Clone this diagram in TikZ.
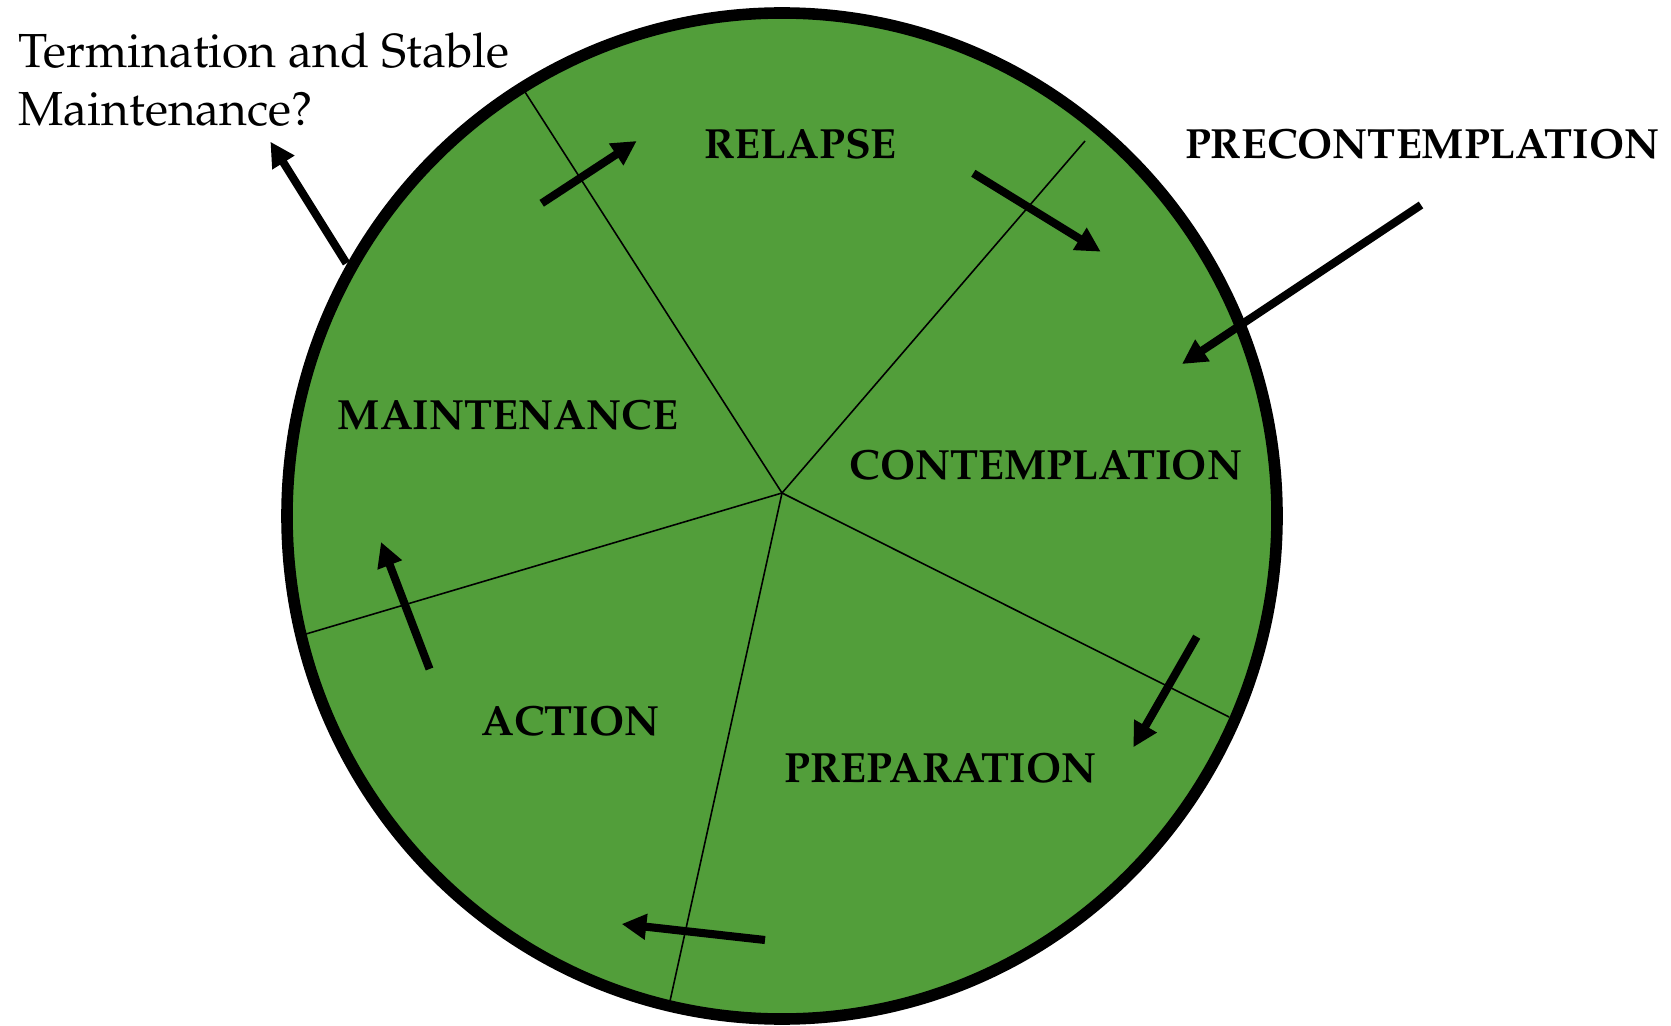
\documentclass[tikz,border=0pt]{standalone}
\usepackage[T1]{fontenc}
\usepackage{mathpazo}
\usetikzlibrary{arrows.meta}
\definecolor{wheelgreen}{RGB}{82,158,58}

\begin{document}
\begin{tikzpicture}[x=0.01cm, y=-0.01cm,
    stage/.style={anchor=base, inner sep=0pt, font=\fontsize{12}{14}\selectfont\bfseries},
    spoke/.style={line width=0.45pt},
    move/.style={line width=2.3pt, -{Triangle[length=7pt,width=7pt]}}]
  \useasboundingbox (0,0) rectangle (1671,1025);

  % Fill the wheel
  \fill[wheelgreen] (782,516) ellipse [x radius=495, y radius=503];

  % Hub and the five spokes
  \coordinate (hub) at (782,493);
  \coordinate (s1) at (525,92);
  \coordinate (s2) at (1085,141);
  \coordinate (s3) at (1229,717);
  \coordinate (s4) at (670,1001);
  \coordinate (s5) at (306,634);
  \foreach \s in {s1,s2,s3,s4,s5} {
    \draw[spoke] (hub) -- (\s);
  }

  % Rim
  \draw[line width=3.3pt] (782,516) ellipse [x radius=495, y radius=503];

  % Stage names
  \node[stage] (relapse) at (800.6,158.2) {RELAPSE};
  \node[stage] (maint) at (507.9,429.4) {MAINTENANCE};
  \node[stage] (contemp) at (1046,479) {CONTEMPLATION};
  \node[stage] (prep) at (940.6,782.4) {PREPARATION};
  \node[stage] (action) at (570.6,735.3) {ACTION};
  \node[stage] (precon) at (1422.2,158.3) {PRECONTEMPLATION};
  \node[anchor=north west, align=left, inner sep=0pt,
        font=\fontsize{13.6}{16.6}\selectfont] (term) at (18,32)
        {Termination and Stable\\Maintenance?};

  % Arrow ends
  \coordinate (mrA) at (541.7,203.3);  \coordinate (mrB) at (636.7,141);
  \coordinate (rcA) at (973.3,173.3);  \coordinate (rcB) at (1100.7,251.7);
  \coordinate (cpA) at (1196.7,636.7); \coordinate (cpB) at (1133.3,747.3);
  \coordinate (paA) at (765,940);      \coordinate (paB) at (621.7,924);
  \coordinate (amA) at (429.5,669);    \coordinate (amB) at (381,542);
  \coordinate (inA) at (1421,205);     \coordinate (inB) at (1182,364);
  \coordinate (outA) at (346.4,263.3); \coordinate (outB) at (270.4,141.7);

  % Moves round the wheel
  \draw[move] (mrA) -- (mrB);
  \draw[move] (rcA) -- (rcB);
  \draw[move] (cpA) -- (cpB);
  \draw[move] (paA) -- (paB);
  \draw[move] (amA) -- (amB);

  % Entry and exit
  \draw[move] (inA) -- (inB);
  \draw[move] (outA) -- (outB);
\end{tikzpicture}
\end{document}
